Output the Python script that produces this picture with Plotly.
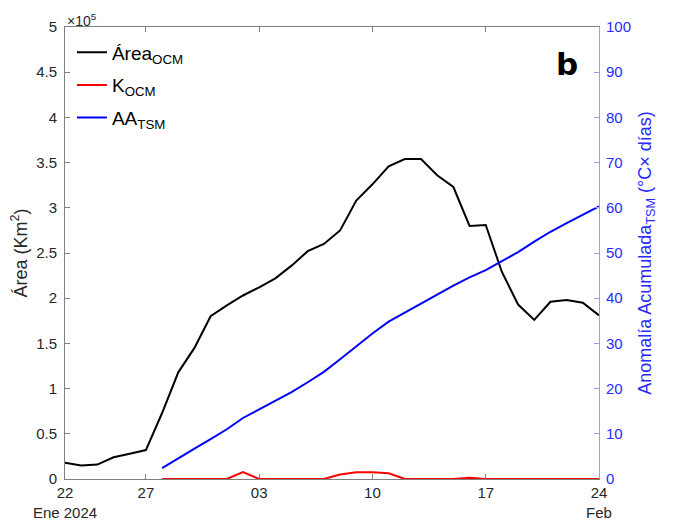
import plotly.graph_objects as go
import pandas as pd

dates = pd.date_range("2024-01-22", "2024-02-24", freq="D")
area_ocm = [0.18, 0.15, 0.16, 0.24, 0.28, 0.32, 0.73, 1.18, 1.45, 1.80, 1.92, 2.03, 2.12,
            2.22, 2.36, 2.52, 2.60, 2.75, 3.08, 3.26, 3.46, 3.54, 3.54, 3.36, 3.23,
            2.80, 2.81, 2.29, 1.93, 1.76, 1.96, 1.98, 1.95, 1.81]
area_ocm = [v * 1e5 for v in area_ocm]

dates2 = dates[6:]
k_ocm = [0, 0, 0, 0, 0, 0.077, 0, 0, 0, 0, 0, 0.05, 0.074, 0.075, 0.063, 0,
         0, 0, 0, 0.015, 0, 0, 0, 0, 0, 0, 0, 0]
k_ocm = [v * 1e5 for v in k_ocm]
aa_tsm = [2.4, 4.6, 6.7, 8.8, 11.0, 13.5, 15.4, 17.3, 19.2, 21.4, 23.7, 26.5, 29.4,
          32.2, 34.8, 36.8, 38.7, 40.7, 42.8, 44.6, 46.2, 48.2, 50.2, 52.5, 54.7,
          56.6, 58.4, 60.3]

tick_dates = ["2024-01-22", "2024-01-27", "2024-02-03", "2024-02-10", "2024-02-17", "2024-02-24"]
tick_text = ["22<br>Ene 2024", "27", "03", "10", "17", "24<br>Feb"]
y_ticks = [0, 0.5e5, 1e5, 1.5e5, 2e5, 2.5e5, 3e5, 3.5e5, 4e5, 4.5e5, 5e5]
y_text = ["0", "0.5", "1", "1.5", "2", "2.5", "3", "3.5", "4", "4.5", "5"]

FONT = "Liberation Sans, Arial, sans-serif"
AX = "#808080"
BLUE_T = "#2a2aff"
TXT = "#262626"

fig = go.Figure()
fig.add_trace(go.Scatter(x=dates, y=area_ocm, mode="lines", name="Área<sub>OCM</sub>",
                         legendgroup="a", line=dict(color="black", width=2)))
fig.add_trace(go.Scatter(x=dates2, y=k_ocm, mode="lines", name="K<sub>OCM</sub>",
                         legendgroup="k", line=dict(color="#ff0000", width=2)))
fig.add_trace(go.Scatter(x=dates2, y=aa_tsm, mode="lines", name="AA<sub>TSM</sub>",
                         legendgroup="t", line=dict(color="#0000ff", width=2), yaxis="y2"))

# page body has an 8px margin; plot area targeted at x 65..599, y 27..479
fig.update_layout(
    width=667, height=517,
    margin=dict(l=57, r=76, t=19, b=46, autoexpand=False),
    paper_bgcolor="white", plot_bgcolor="white",
    font=dict(family=FONT, size=15, color=TXT),
    showlegend=True,
    legend=dict(x=0.013, y=0.986, xanchor="left", yanchor="top",
                bgcolor="rgba(0,0,0,0)", font=dict(size=19, color="black"),
                tracegroupgap=5, itemwidth=30),
    xaxis=dict(type="date", range=["2024-01-22", "2024-02-24"], automargin=False,
               tickvals=tick_dates, ticktext=tick_text,
               showline=True, linecolor=AX, linewidth=1, mirror="ticks",
               ticks="inside", ticklen=5, tickcolor=AX, showgrid=False, zeroline=False,
               tickfont=dict(size=15, color=TXT)),
    yaxis=dict(range=[0, 5e5], tickvals=y_ticks, ticktext=y_text, automargin=False,
               showline=True, linecolor=AX, linewidth=1, mirror=False,
               ticks="inside", ticklen=5, tickcolor=AX, showgrid=False, zeroline=False,
               ticklabelstandoff=4,
               title=dict(text="Área (Km<sup>2</sup>)", font=dict(size=18, color=TXT),
                          standoff=12),
               tickfont=dict(size=15, color=TXT)),
    yaxis2=dict(range=[0, 100], overlaying="y", side="right", dtick=10, automargin=False,
                showline=True, linecolor="#9a9aff", linewidth=1,
                ticks="inside", ticklen=5, tickcolor="#9a9aff", showgrid=False, zeroline=False,
                ticklabelstandoff=3,
                title=dict(text="Anomalía Acumulada<sub>TSM</sub> (°C× días)",
                           font=dict(size=18, color=BLUE_T), standoff=8),
                tickfont=dict(size=15, color=BLUE_T)),
)

fig.add_annotation(xref="paper", yref="paper", x=0.0, y=1.0, xanchor="left", yanchor="bottom",
                   text="×10<sup>5</sup>", showarrow=False,
                   font=dict(size=14, color=TXT), yshift=-4)
fig.add_annotation(xref="paper", yref="paper", x=(567 - 65) / 534, y=(479 - 64) / 452,
                   xanchor="center", yanchor="middle",
                   text="<b>b</b>", showarrow=False,
                   font=dict(size=31, color="black", family="DejaVu Sans, sans-serif"))

fig.write_html("out.html")
